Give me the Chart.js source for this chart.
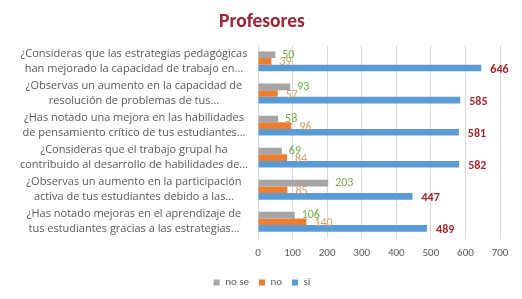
<!DOCTYPE html>
<html>
<head>
<meta charset="utf-8">
<script src="https://cdn.jsdelivr.net/npm/chart.js@4/dist/chart.umd.min.js"></script>
<style>
  html, body { margin: 0; padding: 0; background: #ffffff; }
  #wrap { width: 522px; height: 299px; }
</style>
</head>
<body>
<div id="wrap"><canvas id="c" width="522" height="299"></canvas></div>
<script>
const categories = [
  ["¿Consideras que las estrategias pedagógicas", "han mejorado la capacidad de trabajo en..."],
  ["¿Observas un aumento en la capacidad de", "resolución de problemas de tus..."],
  ["¿Has notado una mejora en las habilidades", "de pensamiento crítico de tus estudiantes..."],
  ["¿Consideras que el trabajo grupal ha", "contribuido al desarrollo de habilidades de..."],
  ["¿Observas un aumento en la participación", "activa de tus estudiantes debido a las..."],
  ["¿Has notado mejoras en el aprendizaje de", "tus estudiantes gracias a las estrategias..."]
];
const seriesNames = ["no se", "no", "si"];
const noSe = [50, 93, 58, 69, 203, 106];
const no = [39, 57, 96, 84, 85, 140];
const si = [646, 585, 581, 582, 447, 489];
const xTicks = [0, 100, 200, 300, 400, 500, 600, 700];

const FONT = "Carlito, Lato, 'Open Sans', sans-serif";
const LABEL_FONT = "'Open Sans', sans-serif";
const barColors = ["#a5a5a5", "#ed7d31", "#5b9bd5"];
const labelStyles = [
  { color: "#70ad47", weight: "normal", dx: 7, dy: 0 },
  { color: "#d8a064", weight: "normal", dx: 8, dy: 1 },
  { color: "#a3282e", weight: "bold", dx: 9, dy: 2 }
];

const valueLabels = {
  id: "valueLabels",
  afterDatasetsDraw(chart) {
    const ctx = chart.ctx;
    ctx.save();
    chart.data.datasets.forEach((ds, i) => {
      const meta = chart.getDatasetMeta(i);
      const st = labelStyles[i];
      ctx.fillStyle = st.color;
      ctx.font = st.weight + " 12px " + FONT;
      ctx.textAlign = "left";
      ctx.textBaseline = "middle";
      meta.data.forEach((bar, j) => {
        ctx.fillText(String(ds.data[j]), bar.x + st.dx, bar.y + st.dy);
      });
    });
    ctx.restore();
  }
};

// shift title and legend so they are centred on the page like the reference
const centerBlocks = {
  id: "centerBlocks",
  afterLayout(chart) {
    const shift = 12;
    [chart.titleBlock, chart.legend].forEach(b => {
      if (b) { b.left += shift; b.right += shift; }
    });
  }
};

new Chart(document.getElementById("c"), {
  type: "bar",
  data: {
    labels: categories,
    datasets: [
      { label: seriesNames[0], data: noSe, backgroundColor: barColors[0] },
      { label: seriesNames[1], data: no, backgroundColor: barColors[1] },
      { label: seriesNames[2], data: si, backgroundColor: barColors[2] }
    ]
  },
  options: {
    indexAxis: "y",
    responsive: false,
    animation: false,
    devicePixelRatio: 1,
    datasets: { bar: { barPercentage: 1, categoryPercentage: 0.62 } },
    layout: { padding: { left: 0, right: 22, top: 0, bottom: 1 } },
    scales: {
      x: {
        min: 0, max: 700,
        afterBuildTicks(scale) { scale.ticks = xTicks.map(v => ({ value: v })); },
        afterFit(scale) { scale.height -= 2; },
        ticks: { color: "#595959", font: { family: FONT, size: 11 }, padding: 9 },
        grid: { color: "#d9d9d9", drawTicks: false },
        border: { display: false }
      },
      y: {
        afterFit(scale) { scale.width = 258; },
        ticks: { autoSkip: false, color: "#595959", font: { family: LABEL_FONT, size: 11, lineHeight: 1.35 }, crossAlign: "center", padding: 2 },
        grid: { display: false },
        border: { display: false }
      }
    },
    plugins: {
      title: {
        display: true, text: "Profesores", color: "#9b2335",
        font: { family: FONT, size: 19.5, weight: "bold" },
        padding: { top: 10, bottom: 12 }
      },
      legend: {
        position: "bottom",
        labels: { boxWidth: 6, boxHeight: 6, color: "#595959", font: { family: FONT, size: 11 }, padding: 10 }
      },
      tooltip: { enabled: false }
    }
  },
  plugins: [valueLabels, centerBlocks]
});
</script>
</body>
</html>
